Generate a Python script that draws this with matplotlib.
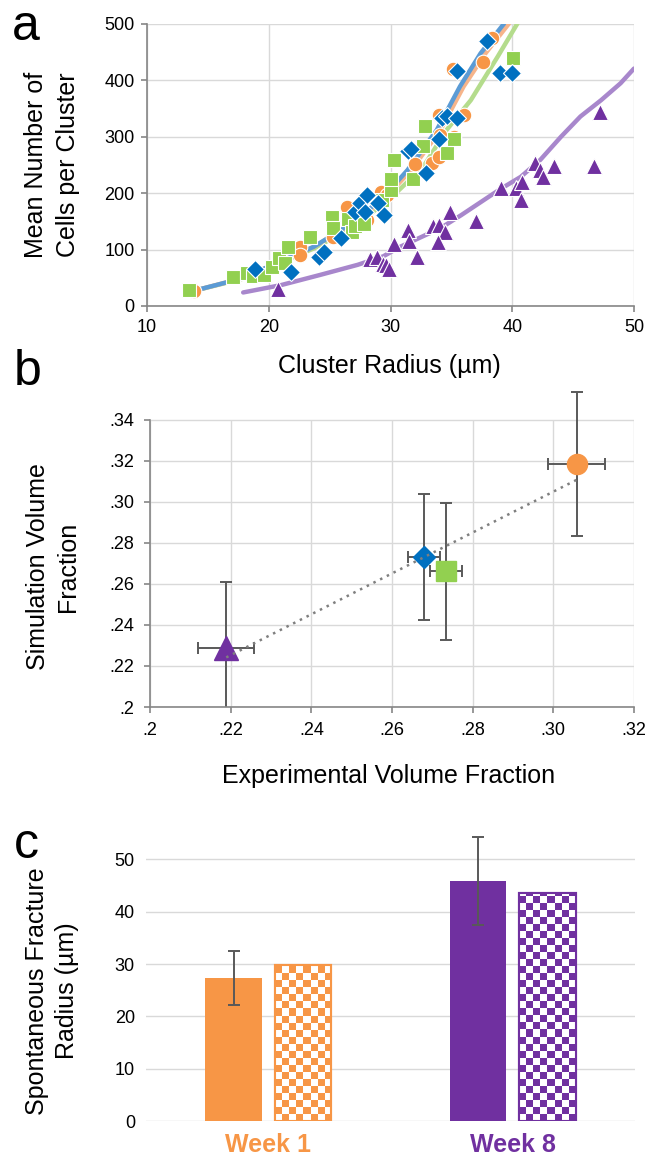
import numpy as np
import matplotlib.pyplot as plt
from matplotlib.colors import ListedColormap

plt.rcParams['font.family'] = ['Liberation Sans', 'DejaVu Sans']

# colours
ORANGE = '#F79646'
GREEN = '#92D050'
BLUE = '#0070C0'
PURPLE = '#7030A0'
GRID = '#D9D9D9'
AXIS = '#868686'
ERR = '#595959'

# ---- panel a: cells per cluster vs cluster radius ----
orange_x = [13.9, 22.6, 22.6, 25.3, 26.4, 28.1, 29.2, 29.7, 32.0, 33.4, 33.95, 34.1, 35.2, 33.95, 36.0, 35.1, 37.6, 38.3]
orange_y = [27, 105, 90, 123, 175, 152, 203, 197, 252, 254, 264, 303, 300, 339, 339, 420, 433, 476]

green_x = [13.45, 17.1, 18.2, 18.7, 19.6, 20.25, 20.85, 21.3, 21.6, 23.4, 25.2, 25.3, 26.55, 26.8, 27.1, 27.8,
           29.3, 30.0, 30.0, 30.3, 31.85, 32.7, 32.8, 34.6, 35.2, 40.1]
green_y = [28, 51, 58, 53, 55, 70, 85, 77, 104, 123, 157, 138, 155, 132, 141, 145,
           188, 206, 225, 259, 226, 284, 319, 272, 296, 439]

blue_x = [18.9, 21.8, 24.1, 24.5, 25.9, 27.1, 27.5, 27.9, 28.1, 29.0, 29.5, 31.4, 31.7, 32.9, 33.95, 34.2, 34.6,
          35.5, 35.5, 37.9, 39.0, 40.0]
blue_y = [65, 61, 87, 96, 120, 167, 182, 167, 197, 182, 161, 275, 279, 235, 296, 333, 336,
          333, 417, 469, 413, 414]

purple_x = [20.8, 28.3, 28.9, 29.4, 29.6, 29.85, 30.25, 31.4, 31.5, 32.2, 33.5, 34.0, 34.5, 33.9, 34.9, 37.05,
            39.1, 40.3, 40.7, 40.8, 41.9, 42.3, 42.5, 43.4, 46.7, 47.2]
purple_y = [30, 83, 86, 74, 73, 66, 110, 135, 116, 87, 142, 144, 132, 114, 166, 151,
            209, 209, 188, 220, 254, 241, 229, 248, 248, 344]

# simulated curves
blue_sim_x = [13.5, 17.8, 23.7, 26.4, 29.2, 31.4, 33.8, 35.7, 37.4, 39.3, 39.8]
blue_sim_y = [25, 49, 105, 141, 188, 241, 312, 389, 448, 500, 520]
orange_sim_x = [13.5, 17.8, 23.7, 26.5, 29.4, 31.7, 34.1, 36.0, 37.8, 39.7, 40.2]
orange_sim_y = [25, 49, 105, 141, 188, 241, 312, 389, 448, 500, 520]
green_sim_x = [13.5, 17.8, 23.8, 26.7, 29.7, 32.7, 34.6, 36.6, 38.8, 40.4, 40.9]
green_sim_y = [25, 48, 103, 138, 185, 247, 312, 365, 442, 500, 520]
purple_sim_x = [17.9, 21.0, 24.2, 27.3, 29.4, 30.8, 34.1, 35.8, 39.0, 40.7, 42.3, 44.0, 45.6, 47.3, 48.9, 50.0]
purple_sim_y = [24, 37, 55, 73, 88, 105, 138, 161, 207, 229, 259, 300, 336, 365, 395, 421]

a_xticks = [10, 20, 30, 40, 50]
a_yticks = [0, 100, 200, 300, 400, 500]

# ---- panel b: simulation vs experimental volume fraction ----
b_colors = [ORANGE, GREEN, BLUE, PURPLE]
b_markers = ['o', 's', 'D', '^']
b_sizes = [14.5, 14.5, 11.5, 17]
exp_frac = [0.3058, 0.2733, 0.268, 0.2189]
exp_err = [0.007, 0.004, 0.004, 0.007]
sim_frac = [0.3185, 0.2661, 0.273, 0.2288]
sim_err = [0.035, 0.0333, 0.0306, 0.032]
b_xticks = [0.20, 0.22, 0.24, 0.26, 0.28, 0.30, 0.32]
b_xlabels = ['.2', '.22', '.24', '.26', '.28', '.30', '.32']
b_yticks = [0.20, 0.22, 0.24, 0.26, 0.28, 0.30, 0.32, 0.34]
b_ylabels = ['.2', '.22', '.24', '.26', '.28', '.30', '.32', '.34']

# ---- panel c: spontaneous fracture radius ----
weeks = ['Week 1', 'Week 8']
week_colors = [ORANGE, PURPLE]
radius_exp = [27.3, 45.8]
radius_exp_err = [5.1, 8.4]
radius_sim = [29.8, 43.5]
c_yticks = [0, 10, 20, 30, 40, 50]

W, H = 647, 1159
fig = plt.figure(figsize=(W / 100, H / 100), dpi=100)


def box(l, t, r, b):
    return [l / W, 1 - b / H, (r - l) / W, (b - t) / H]


def style_axis(ax, pad=4):
    for s in ['top', 'right']:
        ax.spines[s].set_visible(False)
    for s in ['left', 'bottom']:
        ax.spines[s].set_color(AXIS)
        ax.spines[s].set_linewidth(1.2)
    ax.tick_params(direction='out', length=4, width=1.2, color=AXIS, labelsize=13, pad=pad)


# panel a
ax = fig.add_axes(box(147, 24, 634, 306))
for cx, cy, col in [(green_sim_x, green_sim_y, '#B4DC8C'), (orange_sim_x, orange_sim_y, '#F6B48A'),
                    (blue_sim_x, blue_sim_y, '#5B9BD5'), (purple_sim_x, purple_sim_y, '#A887CC')]:
    ax.plot(cx, cy, color=col, lw=3.2, solid_capstyle='round', zorder=2)
ax.plot(orange_x, orange_y, ls='none', marker='o', ms=10.5, mfc=ORANGE, mec='white', mew=0.8, zorder=3)
ax.plot(green_x, green_y, ls='none', marker='s', ms=9.4, mfc=GREEN, mec='white', mew=0.8, zorder=3)
ax.plot(blue_x, blue_y, ls='none', marker='D', ms=9.6, mfc=BLUE, mec='white', mew=0.8, zorder=3)
ax.plot(purple_x, purple_y, ls='none', marker='^', ms=11, mfc=PURPLE, mec='white', mew=0.8, zorder=3)
ax.set_xlim(10, 50)
ax.set_ylim(0, 500)
ax.set_xticks(a_xticks)
ax.set_yticks(a_yticks)
ax.grid(color=GRID, lw=1)
ax.set_axisbelow(True)
style_axis(ax, pad=5)
fig.text(389 / W, 1 - 366 / H, 'Cluster Radius (µm)', fontsize=18, ha='center', va='center')
fig.text(52 / W, 1 - 165 / H, 'Mean Number of\nCells per Cluster', fontsize=18, rotation=90,
         ha='center', va='center', multialignment='center', linespacing=1.4)
fig.text(12 / W, 1 - 40 / H, 'a', fontsize=36, ha='left', va='baseline')

# panel b
ax = fig.add_axes(box(150, 387, 634, 707))
ax.vlines(b_xticks, b_yticks[0], b_yticks[-1], color=GRID, lw=1, zorder=0)
ax.hlines(b_yticks, b_xticks[0], b_xticks[-1], color=GRID, lw=1, zorder=0)
for i in range(len(exp_frac)):
    ax.errorbar(exp_frac[i], sim_frac[i], xerr=exp_err[i], yerr=sim_err[i], fmt='none', ecolor=ERR,
                elinewidth=1.4, capsize=4, capthick=1.4, zorder=2)
    ax.plot(exp_frac[i], sim_frac[i], ls='none', marker=b_markers[i], ms=b_sizes[i], mfc=b_colors[i],
            mec=b_colors[i], zorder=3)
coef = np.polyfit(exp_frac, sim_frac, 1)
tx = np.array([min(exp_frac), max(exp_frac)])
ax.plot(tx, np.polyval(coef, tx), ls=(0, (1, 2)), lw=1.8, color='#7F7F7F', zorder=4)
ax.set_xlim(0.2, 0.32)
ax.set_ylim(0.2, 0.356)
ax.set_xticks(b_xticks, b_xlabels)
ax.set_yticks(b_yticks, b_ylabels)
style_axis(ax, pad=7)
ax.spines['left'].set_bounds(b_yticks[0], b_yticks[-1])
fig.text(389 / W, 1 - 776 / H, 'Experimental Volume Fraction', fontsize=18, ha='center', va='center')
fig.text(53 / W, 1 - 567 / H, 'Simulation Volume\nFraction', fontsize=18, rotation=90,
         ha='center', va='center', multialignment='center', linespacing=1.3)
fig.text(14 / W, 1 - 385 / H, 'b', fontsize=36, ha='left', va='baseline')

# panel c
ax = fig.add_axes(box(146, 828, 635, 1121))
pos = np.arange(len(weeks))
bw = 0.23
ax.bar(pos - 0.142, radius_exp, bw, color=week_colors, zorder=2, yerr=radius_exp_err,
       error_kw=dict(ecolor=ERR, elinewidth=1.4, capsize=4, capthick=1.4))
ax.set_xlim(-0.5, 1.5)
ax.set_ylim(0, 56)
sim_bars = ax.bar(pos + 0.142, radius_sim, bw, facecolor='white', edgecolor=week_colors, lw=1.5, zorder=2)
# checkerboard fill clipped to each simulated bar
fig.canvas.draw()
px_x = ax.transData.transform((1, 0))[0] - ax.transData.transform((0, 0))[0]
px_y = ax.transData.transform((0, 1))[1] - ax.transData.transform((0, 0))[1]
ncol = 8
for rect, col in zip(sim_bars, week_colors):
    x0, w, h = rect.get_x(), rect.get_width(), rect.get_height()
    cell_y = w / ncol * px_x / px_y
    nrow = int(np.ceil(h / cell_y))
    board = np.indices((nrow, ncol)).sum(axis=0) % 2
    im = ax.imshow(board, extent=[x0, x0 + w, 0, nrow * cell_y], origin='lower', cmap=ListedColormap(['white', col]),
                   aspect='auto', interpolation='nearest', zorder=2.5)
    im.set_clip_path(rect)
    ax.add_patch(plt.Rectangle((x0, 0), w, h, facecolor='none', edgecolor=col, lw=1.5, zorder=3))
ax.set_xlim(-0.5, 1.5)
ax.set_ylim(0, 56)
ax.set_yticks(c_yticks)
ax.yaxis.grid(True, color=GRID, lw=1)
ax.set_axisbelow(True)
for s in ax.spines.values():
    s.set_visible(False)
ax.tick_params(axis='y', length=0, labelsize=13, pad=8)
ax.set_xticks(pos, weeks)
ax.tick_params(axis='x', length=0, labelsize=18, pad=9)
for lab, col in zip(ax.get_xticklabels(), week_colors):
    lab.set_color(col)
    lab.set_fontweight('bold')
fig.text(52 / W, 1 - 991 / H, 'Spontaneous Fracture\nRadius (µm)', fontsize=18, rotation=90,
         ha='center', va='center', multialignment='center', linespacing=1.3)
fig.text(14 / W, 1 - 858 / H, 'c', fontsize=36, ha='left', va='baseline')

fig.savefig('out.png', dpi=100)
